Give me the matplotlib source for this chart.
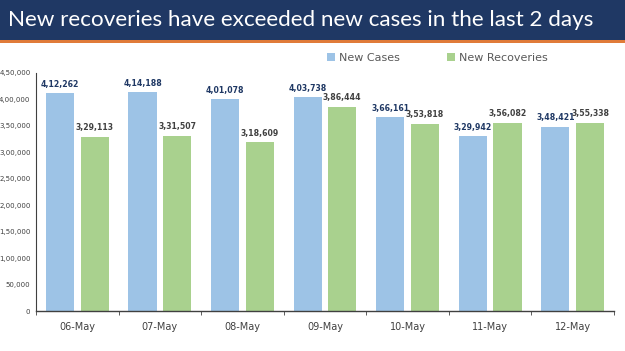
import numpy as np
import matplotlib
matplotlib.use("Agg")
import matplotlib.pyplot as plt
from matplotlib.patches import Rectangle

days = ["06-May", "07-May", "08-May", "09-May", "10-May", "11-May", "12-May"]
new_cases = [412262, 414188, 401078, 403738, 366161, 329942, 348421]
new_recoveries = [329113, 331507, 318609, 386444, 353818, 356082, 355338]
y_ticks = [0, 50000, 100000, 150000, 200000, 250000, 300000, 350000, 400000, 450000]


def indian_fmt(v):
    s = str(int(v))
    if len(s) <= 3:
        return s
    last3 = s[-3:]
    rest = s[:-3]
    parts = []
    while len(rest) > 2:
        parts.insert(0, rest[-2:])
        rest = rest[:-2]
    if rest:
        parts.insert(0, rest)
    return ",".join(parts + [last3])


fig = plt.figure(figsize=(6.25, 3.51), dpi=100)
fig.patch.set_facecolor("white")

# title banner
fig.patches.append(Rectangle((0, 1 - 40 / 351), 1, 40 / 351, transform=fig.transFigure,
                             facecolor="#1f3864", edgecolor="none", zorder=0))
fig.patches.append(Rectangle((0, 1 - 43 / 351), 1, 3 / 351, transform=fig.transFigure,
                             facecolor="#e07b39", edgecolor="none", zorder=0))
fig.text(0.012, 1 - 20 / 351, "New recoveries have exceeded new cases in the last 2 days",
         color="white", fontsize=16.2, family="Lato", va="center", ha="left")

ax = fig.add_axes([36 / 625, 1 - 311 / 351, 578 / 625, 238 / 351])
x = np.arange(len(days))
w = 0.34
off = 0.21
b1 = ax.bar(x - off, new_cases, w, color="#9dc3e6", label="New Cases")
b2 = ax.bar(x + off, new_recoveries, w, color="#a9d18e", label="New Recoveries")

for xi, v in zip(x, new_cases):
    ax.text(xi - off, v + 8000, indian_fmt(v), ha="center", va="bottom",
            fontsize=5.6, fontweight="bold", color="#1f3864")
for xi, v in zip(x, new_recoveries):
    ax.text(xi + off, v + 9000, indian_fmt(v), ha="center", va="bottom",
            fontsize=5.6, fontweight="bold", color="#404040")

ax.set_xlim(-0.5, len(days) - 0.5)
ax.set_ylim(0, 450000)
ax.set_yticks(y_ticks)
ax.set_yticklabels([indian_fmt(t) for t in y_ticks], fontsize=5, color="#404040")
ax.set_xticks(x)
ax.set_xticklabels(days, fontsize=7, color="#404040")
ax.set_xticks(np.arange(len(days) + 1) - 0.5, minor=True)
ax.tick_params(axis="x", which="major", length=0, pad=8)
ax.tick_params(axis="x", which="minor", length=3, direction="out", color="#404040")
ax.tick_params(axis="y", length=0, pad=4)
for s in ["top", "right"]:
    ax.spines[s].set_visible(False)
ax.spines["left"].set_color("#404040")
ax.spines["bottom"].set_color("#404040")
ax.spines["left"].set_linewidth(0.8)
ax.spines["bottom"].set_linewidth(1.0)

fig.legend(handles=[b1, b2], loc="center", bbox_to_anchor=(0.7, 1 - 58 / 351),
           ncol=2, frameon=False, fontsize=8, labelcolor="#595959",
           handlelength=0.7, handleheight=0.7, columnspacing=4.2, handletextpad=0.4)

fig.savefig("out.png", dpi=100)
